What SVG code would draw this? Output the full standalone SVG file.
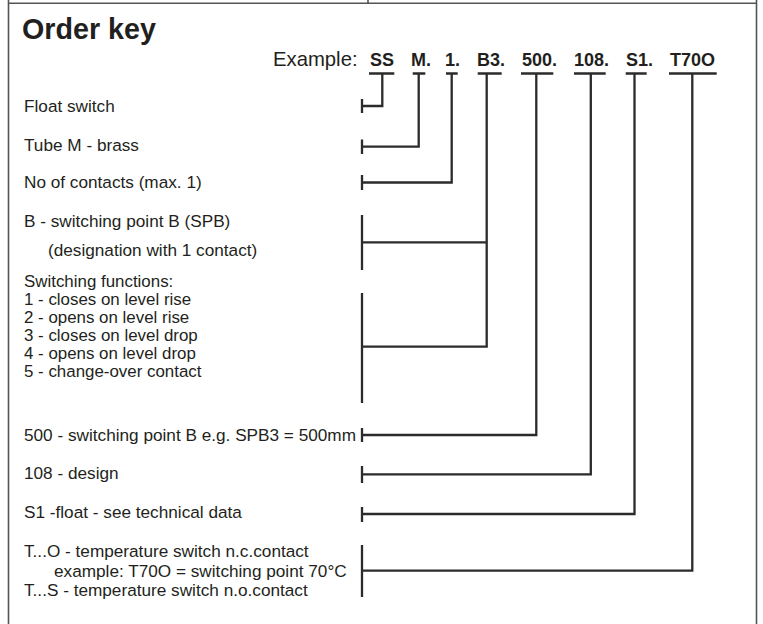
<svg xmlns="http://www.w3.org/2000/svg" width="763" height="624" viewBox="0 0 763 624">
<style>
.frame{stroke:#555;stroke-width:1.6;fill:none}
.c{stroke:#2b2b2b;stroke-width:2.3;fill:none;stroke-linejoin:miter;stroke-linecap:butt}
text{font-family:"Liberation Sans",Arial,Helvetica,sans-serif;fill:#231f20}
.t{font-size:17.2px}
.f{font-size:16.9px}
.title{font-size:28.7px;font-weight:bold}
.ex{font-size:20.3px}
.code{font-size:18px;font-weight:bold}
</style>
<rect width="763" height="624" fill="#fff"/>
<g id="frame">
<path class="frame" d="M8.5,0V624M756.5,0V624M8.5,3.2H756.5M368,0V3.2"/>
</g>
<g id="title"><text class="title" x="22" y="39">Order key</text></g>
<g id="example">
<text class="ex" x="273" y="66">Example:</text>
<text class="code" x="370" y="66">SS</text>
<text class="code" x="411" y="66">M.</text>
<text class="code" x="445" y="66">1.</text>
<text class="code" x="477" y="66">B3.</text>
<text class="code" x="522" y="66">500.</text>
<text class="code" x="574" y="66">108.</text>
<text class="code" x="626" y="66">S1.</text>
<text class="code" x="670" y="66">T70O</text>
</g>
<g id="n-float"><text class="t" x="24" y="112.3">Float switch</text></g>
<g id="n-tube"><text class="t" x="24" y="151">Tube M - brass</text></g>
<g id="n-contacts"><text class="t" x="24" y="187.5">No of contacts (max. 1)</text></g>
<g id="n-spb">
<text class="t" x="24" y="227">B - switching point B (SPB)</text>
<text class="t" x="48" y="255.5">(designation with 1 contact)</text>
</g>
<g id="n-functions">
<text class="f" x="24" y="287.3">Switching functions:</text>
<text class="f" x="24" y="305.3">1 - closes on level rise</text>
<text class="f" x="24" y="323.3">2 - opens on level rise</text>
<text class="f" x="24" y="341.3">3 - closes on level drop</text>
<text class="f" x="24" y="359.3">4 - opens on level drop</text>
<text class="f" x="24" y="377.3">5 - change-over contact</text>
</g>
<g id="n-500"><text class="t" x="24" y="440.7">500 - switching point B e.g. SPB3 = 500mm</text></g>
<g id="n-108"><text class="t" x="24" y="479.3">108 - design</text></g>
<g id="n-s1"><text class="t" x="24" y="518.3">S1 -float - see technical data</text></g>
<g id="n-temp">
<text class="t" x="24" y="556.7">T...O - temperature switch n.c.contact</text>
<text class="t" x="54" y="576.7">example: T70O = switching point 70°C</text>
<text class="t" x="24" y="595.5">T...S - temperature switch n.o.contact</text>
</g>
<g id="connectors">
<path class="c" d="M369,73.5H394.3M412.7,73.5H425.3M446,73.5H457.7M477.7,73.5H501.7M521,73.5H553.3M574,73.5H605.7M625.7,73.5H646.7M669,73.5H716.7"/>
<path class="c" d="M382.3,73.5V106H362"/>
<path class="c" d="M418.7,73.5V146.7H362"/>
<path class="c" d="M451.7,73.5V182.5H362"/>
<path class="c" d="M486.7,73.5V346.7H362M486.7,242.3H362"/>
<path class="c" d="M536.3,73.5V435H362"/>
<path class="c" d="M590.8,73.5V474.3H362"/>
<path class="c" d="M634.5,73.5V514H362"/>
<path class="c" d="M692.3,73.5V570.7H362"/>
<path class="c" d="M362,99V113M362,139.5V154M362,175V190M362,215V270M362,293V403M362,428V442M362,466V483M362,507V522M362,545V597"/>
</g>
</svg>
